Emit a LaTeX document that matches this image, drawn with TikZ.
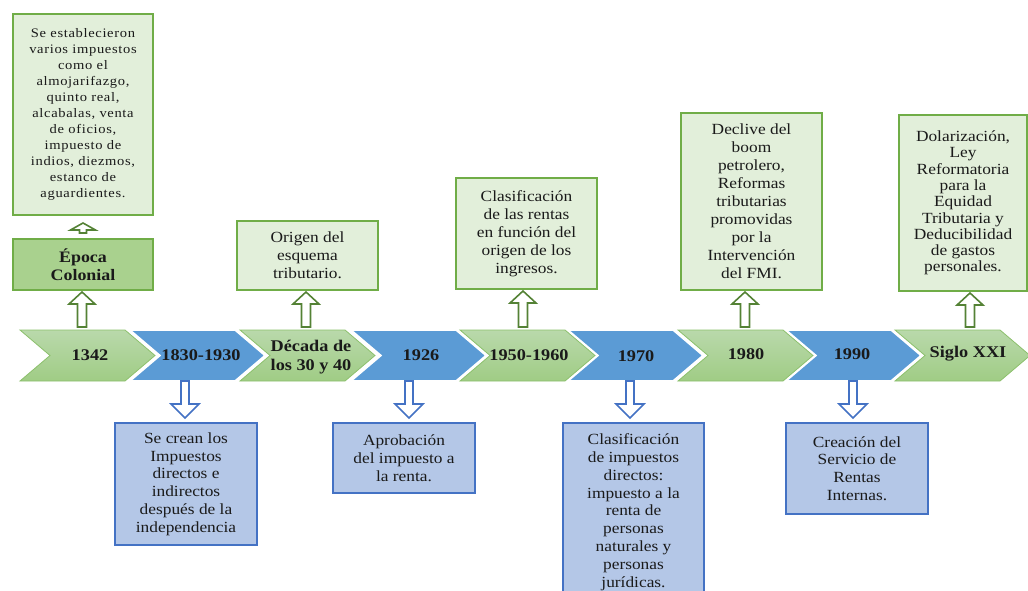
\documentclass[tikz,border=0pt]{standalone}
\usepackage{fontspec}
\setmainfont{Liberation Serif}[FakeStretch=1.12]
\usetikzlibrary{calc}
\definecolor{gchevtop}{HTML}{B9D9AB}
\definecolor{gchevbot}{HTML}{A0CC85}
\definecolor{gchevline}{HTML}{8CC06C}
\definecolor{bchev}{HTML}{5B9BD5}
\definecolor{gboxfill}{HTML}{E2EFDA}
\definecolor{gboxline}{HTML}{70AD47}
\definecolor{gdark}{HTML}{A9D18E}
\definecolor{garrow}{HTML}{548235}
\definecolor{bboxfill}{HTML}{B4C7E7}
\definecolor{bboxline}{HTML}{4472C4}
\definecolor{txt}{HTML}{1A1A1A}
\newcommand\blockarrow[6]{%
  \draw[#1] let \p1=(#2), \p2=(#3), \n1={ifthenelse(\y2>\y1,1,-1)} in
    ({\x1-#4},{\y1}) -- ({\x1-#4},{\y2-(\n1)*#6}) -- ({\x1-#5},{\y2-(\n1)*#6})
    -- ({\x1},{\y2}) -- ({\x1+#5},{\y2-(\n1)*#6}) -- ({\x1+#4},{\y2-(\n1)*#6})
    -- ({\x1+#4},{\y1}) -- cycle;}
\newcommand\chevshape[2]{%
  \path[#1] (#2,330) -- ++(105,0) -- ++(30,25.5) -- ++(-30,25.5) -- ++(-105,0) -- ++(30,-25.5) -- cycle;}
\tikzset{
  gbox/.style={draw=gboxline, fill=gboxfill, line width=2pt, align=center, inner sep=0pt,
    anchor=north west, text=txt, font=\fontsize{15.5}{18}\selectfont},
  bbox/.style={draw=bboxline, fill=bboxfill, line width=2pt, align=center, inner sep=0pt,
    anchor=north west, text=txt, font=\fontsize{15.5}{17.8}\selectfont},
  chevg/.style={top color=gchevtop, bottom color=gchevbot, draw=gchevline, line width=0.8pt},
  chevb/.style={fill=bchev, draw=white, line width=1.6pt},
  chevlabel/.style={font=\bfseries\fontsize{16.3}{19}\selectfont, align=center, text=txt, inner sep=0pt},
  garr/.style={draw=garrow, fill=white, line width=1.6pt, line join=miter},
  barr/.style={draw=bboxline, fill=white, line width=1.6pt, line join=miter},
}
\begin{document}
\begin{tikzpicture}[x=1pt,y=-1pt]
\useasboundingbox (0,0) rectangle (1028,591);
\clip (0,0) rectangle (1028,591);
% timeline chevrons
\chevshape{chevg}{20}
\chevshape{chevb}{130}
\chevshape{chevg}{240}
\chevshape{chevb}{351}
\chevshape{chevg}{460}
\chevshape{chevb}{568}
\chevshape{chevg}{678}
\chevshape{chevb}{786}
\chevshape{chevg}{895}
\node[chevlabel] (c1) at (90,355) {1342};
\node[chevlabel] (c2) at (201,355) {1830-1930};
\node[chevlabel] (c3) at (311,357) {Década de\\los 30 y 40};
\node[chevlabel] (c4) at (421,355) {1926};
\node[chevlabel] (c5) at (529,355) {1950-1960};
\node[chevlabel] (c6) at (636,356) {1970};
\node[chevlabel] (c7) at (746,354) {1980};
\node[chevlabel] (c8) at (852,354) {1990};
\node[chevlabel] (c9) at (968,354) {Siglo XXI};
% top boxes
\node[gbox, minimum width=140pt, minimum height=201pt, font=\fontsize{13}{16}\selectfont\addfontfeature{LetterSpace=5}] (b1) at (12,13)
  {Se establecieron\\varios impuestos\\como el\\almojarifazgo,\\quinto real,\\alcabalas, venta\\de oficios,\\impuesto de\\indios, diezmos,\\estanco de\\aguardientes.};
\node[gbox, fill=gdark, minimum width=140pt, minimum height=51pt, font=\bfseries\fontsize{16}{18.5}\selectfont] (ep) at (12,238)
  {Época\\Colonial};
\node[gbox, minimum width=141pt, minimum height=69pt] (b2) at (236,220)
  {Origen del\\esquema\\tributario.};
\node[gbox, minimum width=141pt, minimum height=111pt] (b3) at (455,177)
  {Clasificación\\de las rentas\\en función del\\origen de los\\ingresos.};
\node[gbox, minimum width=141pt, minimum height=177pt] (b4) at (680,112)
  {Declive del\\boom\\petrolero,\\Reformas\\tributarias\\promovidas\\por la\\Intervención\\del FMI.};
\node[gbox, minimum width=128pt, minimum height=176pt, font=\fontsize{15.5}{16.3}\selectfont] (b5) at (898,114)
  {Dolarización,\\Ley\\Reformatoria\\para la\\Equidad\\Tributaria y\\Deducibilidad\\de gastos\\personales.};
% bottom boxes
\node[bbox, minimum width=142pt, minimum height=122pt] (d1) at (114,422)
  {Se crean los\\Impuestos\\directos e\\indirectos\\después de la\\independencia};
\node[bbox, minimum width=142pt, minimum height=70pt] (d2) at (332,422)
  {Aprobación\\del impuesto a\\la renta.};
\node[bbox, minimum width=141pt, minimum height=178pt] (d3) at (562,422)
  {Clasificación\\de impuestos\\directos:\\impuesto a la\\renta de\\personas\\naturales y\\personas\\jurídicas.};
\node[bbox, minimum width=142pt, minimum height=91pt] (d4) at (785,422)
  {Creación del\\Servicio de\\Rentas\\Internas.};
% arrow tails on the timeline
\coordinate (u1) at (82,327);
\coordinate (u3) at (306,327);
\coordinate (u5) at (523,327);
\coordinate (u7) at (745,327);
\coordinate (u9) at (970,327);
\coordinate (w2) at (185,381);
\coordinate (w4) at (409,381);
\coordinate (w6) at (630,381);
\coordinate (w8) at (853,381);
% up arrows
\blockarrow{garr}{u1}{$(u1 |- ep.south)+(0,1)$}{4.5pt}{13pt}{12pt}
\blockarrow{garr}{$(ep.north)+(0,-5)$}{$(b1.south)+(0,7)$}{3.5pt}{12.5pt}{7pt}
\blockarrow{garr}{u3}{$(u3 |- b2.south)+(0,1)$}{4.5pt}{13pt}{12pt}
\blockarrow{garr}{u5}{$(u5 |- b3.south)+(0,1)$}{4.5pt}{13pt}{12pt}
\blockarrow{garr}{u7}{$(u7 |- b4.south)+(0,1)$}{4.5pt}{13pt}{12pt}
\blockarrow{garr}{u9}{$(u9 |- b5.south)+(0,1)$}{4.5pt}{13pt}{12pt}
% down arrows
\blockarrow{barr}{w2}{$(w2 |- d1.north)+(0,-4)$}{4pt}{14pt}{14pt}
\blockarrow{barr}{w4}{$(w4 |- d2.north)+(0,-4)$}{4pt}{14pt}{14pt}
\blockarrow{barr}{w6}{$(w6 |- d3.north)+(0,-4)$}{4pt}{14pt}{14pt}
\blockarrow{barr}{w8}{$(w8 |- d4.north)+(0,-4)$}{4pt}{14pt}{14pt}
\end{tikzpicture}
\end{document}
